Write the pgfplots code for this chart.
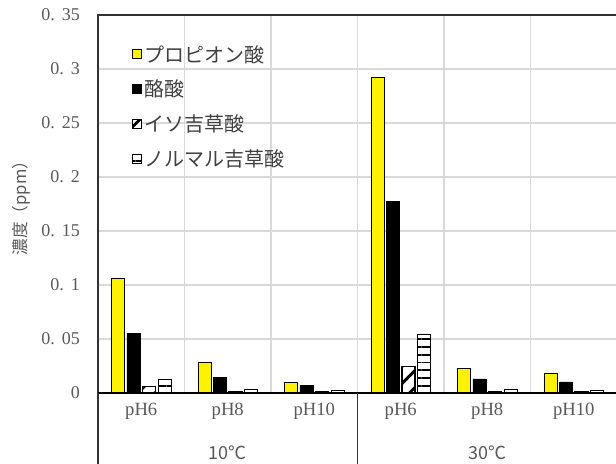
\documentclass[border=0pt]{standalone}
\usepackage{pgfplots}
\pgfplotsset{compat=1.18}
\usepackage{fontspec}
\setmainfont{Liberation Serif}
\newfontfamily\jp{Noto Sans CJK JP}
\usetikzlibrary{patterns.meta}
\definecolor{tickgray}{HTML}{595959}
\definecolor{gridgray}{HTML}{D9D9D9}
\definecolor{lgtext}{HTML}{404040}
\begin{document}
\begin{tikzpicture}
\begin{axis}[
  at={(0,0)}, anchor=south west,
  scale only axis, width=389.25pt, height=283.5pt,
  xmin=-0.5, xmax=5.5, ymin=0, ymax=0.35,
  ybar=1.9pt, bar width=9.75pt,
  xtick={0,1,2,3,4,5},
  xticklabels={pH6,pH8,pH10,pH6,pH8,pH10},
  minor xtick={0.5,1.5,2.5,3.5,4.5},
  minor x grid style={gridgray, line width=0.9pt},
  xminorgrids=true,
  ytick={0,0.05,0.1,0.15,0.2,0.25,0.3,0.35},
  yticklabels={0,0.\hspace{0.4em}05,0.\hspace{0.4em}1,0.\hspace{0.4em}15,0.\hspace{0.4em}2,0.\hspace{0.4em}25,0.\hspace{0.4em}3,0.\hspace{0.4em}35},
  ymajorgrids=true,
  major grid style={gridgray, line width=0.9pt},
  major tick length=0pt, minor tick length=0pt,
  tick style={draw=none},
  axis line style={draw=black!80, line width=1pt},
  yticklabel style={font=\fontsize{13.5}{14}\selectfont, text=tickgray, xshift=-10pt},
  xticklabel style={font=\fontsize{14}{15}\selectfont, text=tickgray, anchor=center, yshift=-13.5pt},
  ylabel={\jp 濃度（ppm）},
  ylabel style={at={(axis description cs:-0.148,0.5)}, anchor=center, font=\fontsize{12.5}{13}\selectfont, text=tickgray},
  clip=false,
  legend cell align=left,
  legend style={draw=none, fill=none, at={(rel axis cs:0.058,0.935)}, anchor=north west,
    font=\jp\fontsize{15}{15}\selectfont, text=lgtext, row sep=8pt,
    /tikz/every even column/.append style={column sep=0pt}},
  legend image code/.code={\draw[#1, line width=0.8pt] (0pt,-3pt) rectangle (6.5pt,3.5pt);},
]
\addplot[draw=black, line width=0.6pt, fill=yellow] coordinates {(0,0.106) (1,0.028) (2,0.010) (3,0.292) (4,0.0227) (5,0.018)};
\addlegendentry{プロピオン酸}
\addplot[draw=black, line width=0.6pt, fill=black] coordinates {(0,0.0555) (1,0.0145) (2,0.0072) (3,0.177) (4,0.013) (5,0.0102)};
\addlegendentry{酪酸}
\addplot[draw=black, line width=0.8pt, fill=white, postaction={pattern={Lines[angle=45,distance=9pt,line width=2.2pt]}}] coordinates {(0,0.0062) (1,0.0018) (2,0.0010) (3,0.0245) (4,0.0014) (5,0.0010)};
\addlegendentry{イソ吉草酸}
\addplot[draw=black, line width=0.8pt, fill=white, postaction={pattern={Lines[angle=0,distance=5.8pt,line width=1.4pt]}}] coordinates {(0,0.0125) (1,0.0030) (2,0.0022) (3,0.0545) (4,0.0030) (5,0.0023)};
\addlegendentry{ノルマル吉草酸}
\draw[black, line width=1.4pt] (axis cs:-0.5,0) -- (axis cs:5.5,0);
\draw[black!80, line width=1pt] (axis cs:-0.5,0) -- ([yshift=-60pt]axis cs:-0.5,0);
\draw[black!80, line width=1pt] (axis cs:2.5,0) -- ([yshift=-60pt]axis cs:2.5,0);
\draw[black!80, line width=1pt] (axis cs:5.5,0) -- ([yshift=-60pt]axis cs:5.5,0);
\node[text=tickgray, font=\jp\fontsize{13.5}{14}\selectfont] at ([yshift=-44.5pt]axis cs:1,0) {10℃};
\node[text=tickgray, font=\jp\fontsize{13.5}{14}\selectfont] at ([yshift=-44.5pt]axis cs:4,0) {30℃};
\end{axis}
\pgfresetboundingbox
\useasboundingbox (-73.5pt,-52.5pt) rectangle (388.5pt,294.75pt);
\end{tikzpicture}
\end{document}
